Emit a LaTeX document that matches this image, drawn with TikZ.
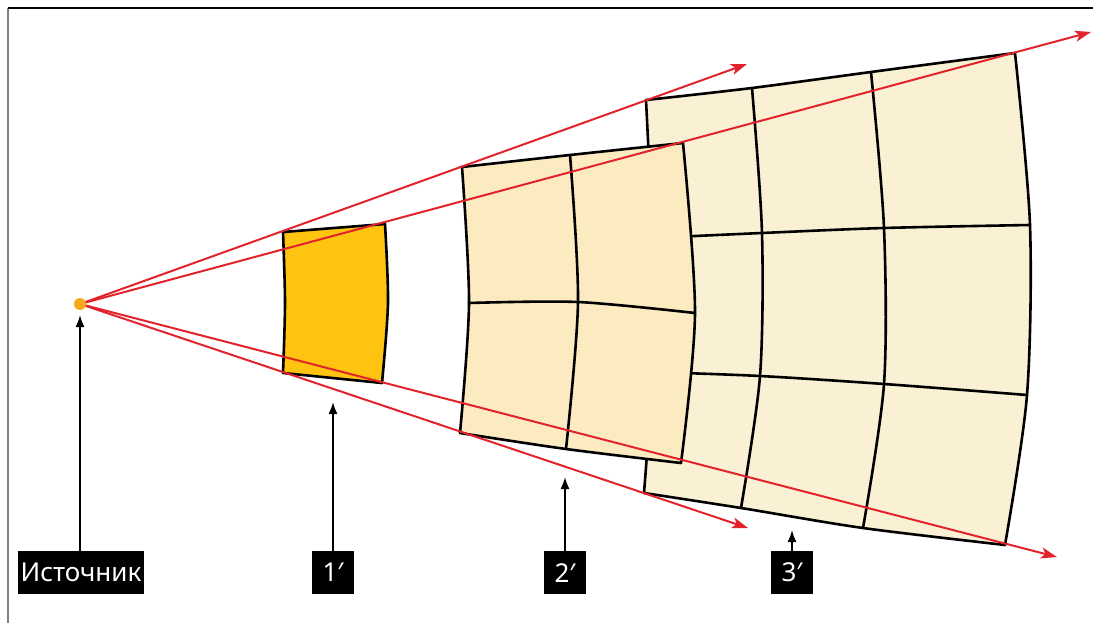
\documentclass[tikz,border=0pt]{standalone}
\usepackage{fontspec}
\setmainfont{Noto Sans}
\usetikzlibrary{arrows.meta}
\definecolor{RayRed}{HTML}{E2232B}
\definecolor{SrcOrange}{HTML}{F6A81C}
\definecolor{ScrGold}{HTML}{FEC40F}
\definecolor{ScrCream}{HTML}{FCEBC0}
\definecolor{ScrPale}{HTML}{FAF0D4}
\definecolor{FrameGrey}{HTML}{7F7F7F}

\begin{document}
\begin{tikzpicture}[x=1pt, y=-1pt,
    ray/.style={-{Stealth[length=16pt,width=11pt,inset=4pt]}, line width=2pt,
                draw=RayRed},
    mesh/.style={line width=2.6pt, draw=black, line join=round, line cap=round},
    srcdot/.style={circle, fill=SrcOrange, minimum size=12pt, inner sep=0pt},
    tagbox/.style={fill=black, text=white, font=\fontsize{26}{30}\selectfont,
                   minimum height=43pt, minimum width=42pt, inner xsep=3pt,
                   inner ysep=0pt, anchor=north},
    tagarrow/.style={-{Latex[length=12pt,width=9pt]}, line width=1.8pt, draw=black}
]
\useasboundingbox (0,0) rectangle (1093,623);
\draw[FrameGrey, line width=2pt] (8,623) -- (8,8);
\draw[black, line width=1.6pt] (8,8) -- (1093,8);

% screen 3'
\fill[ScrPale] plot[smooth] coordinates {(646,100) (752,88) (871,72) (1015,53)}
  -- plot[smooth] coordinates {(1015,53) (1030,225) (1027,395) (1005,545)}
  -- plot[smooth] coordinates {(1005,545) (863,528) (741,508) (644,493)}
  -- plot[smooth] coordinates {(644,493) (652,372) (652,238) (646,100)} -- cycle;
\draw[mesh] plot[smooth] coordinates {(646,100) (752,88) (871,72) (1015,53)};
\draw[mesh] plot[smooth] coordinates {(652,238) (762,233) (884,228) (1030,225)};
\draw[mesh] plot[smooth] coordinates {(652,372) (760,376) (884,384) (1027,395)};
\draw[mesh] plot[smooth] coordinates {(644,493) (741,508) (863,528) (1005,545)};
\draw[mesh] plot[smooth] coordinates {(646,100) (652,238) (652,372) (644,493)};
\draw[mesh] plot[smooth] coordinates {(752,88) (762,233) (760,376) (741,508)};
\draw[mesh] plot[smooth] coordinates {(871,72) (884,228) (884,384) (863,528)};
\draw[mesh] plot[smooth] coordinates {(1015,53) (1030,225) (1027,395) (1005,545)};

% screen 2'
\fill[ScrCream] plot[smooth] coordinates {(462,167) (570,155) (683,143)}
  -- plot[smooth] coordinates {(683,143) (695,313) (681,463)}
  -- plot[smooth] coordinates {(681,463) (566,449) (460,433)}
  -- plot[smooth] coordinates {(460,433) (469,303) (462,167)} -- cycle;
\draw[mesh] plot[smooth] coordinates {(462,167) (570,155) (683,143)};
\draw[mesh] plot[smooth] coordinates {(469,303) (578,302) (695,313)};
\draw[mesh] plot[smooth] coordinates {(460,433) (566,449) (681,463)};
\draw[mesh] plot[smooth] coordinates {(462,167) (469,303) (460,433)};
\draw[mesh] plot[smooth] coordinates {(570,155) (578,302) (566,449)};
\draw[mesh] plot[smooth] coordinates {(683,143) (695,313) (681,463)};

% screen 1'
\filldraw[mesh, fill=ScrGold] (283,232) -- (385,224)
  -- plot[smooth] coordinates {(385,224) (388,303) (382,383)}
  -- (283,373)
  -- plot[smooth] coordinates {(283,373) (285,303) (283,232)} -- cycle;

% rays
\coordinate (src) at (80,304);
\coordinate (tipA) at (747,64);
\coordinate (tipB) at (1091,32);
\coordinate (tipC) at (1057,557);
\coordinate (tipD) at (748,528);
\draw[ray] (src) -- (tipA);
\draw[ray] (src) -- (tipB);
\draw[ray] (src) -- (tipC);
\draw[ray] (src) -- (tipD);
\node[srcdot] (source) at (src) {};

% labels
\node[tagbox] (tagsrc) at (81,551) {Источник};
\node[tagbox] (tag1) at (333,551) {1′};
\node[tagbox] (tag2) at (565,551) {2′};
\node[tagbox] (tag3) at (792,551) {3′};
\coordinate (ptsrc) at (80,315);
\coordinate (pt1) at (333,402);
\coordinate (pt2) at (565,477);
\coordinate (pt3) at (792,530);
\draw[tagarrow] (tagsrc.north -| ptsrc) -- (ptsrc);
\draw[tagarrow] (tag1.north) -- (pt1);
\draw[tagarrow] (tag2.north) -- (pt2);
\draw[tagarrow] (tag3.north) -- (pt3);
\end{tikzpicture}
\end{document}
